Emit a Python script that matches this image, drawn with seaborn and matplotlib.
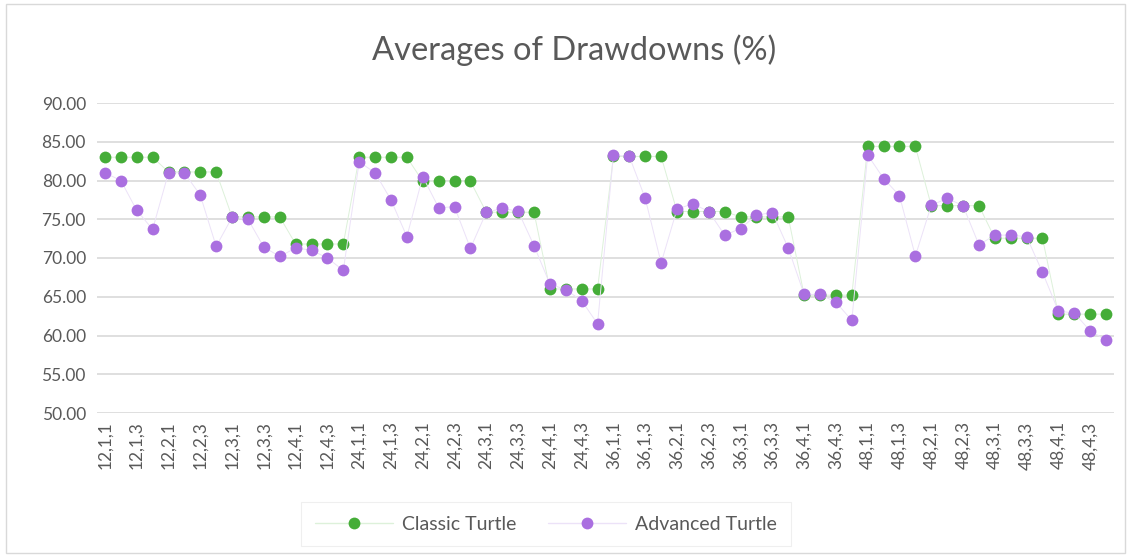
import matplotlib
matplotlib.use("Agg")
import matplotlib.pyplot as plt
import seaborn as sns
import pandas as pd
import numpy as np
from matplotlib.patches import Rectangle
from matplotlib.lines import Line2D

sns.set_theme(style="white")
plt.rcParams['font.family'] = ['Lato', 'DejaVu Sans']

categories = [f"{a},{b},{c}" for a in (12, 24, 36, 48) for b in (1, 2, 3, 4) for c in (1, 2, 3, 4)]

classic = [
    83.0, 83.0, 83.0, 83.0, 81.1, 81.1, 81.1, 81.1, 75.3, 75.3, 75.3, 75.3, 71.8, 71.8, 71.8, 71.8,
    83.0, 83.0, 83.0, 83.0, 79.9, 79.9, 79.9, 79.9, 75.9, 75.9, 75.9, 75.9, 66.0, 66.0, 66.0, 66.0,
    83.1, 83.1, 83.1, 83.1, 76.0, 76.0, 76.0, 76.0, 75.3, 75.3, 75.3, 75.3, 65.2, 65.2, 65.2, 65.2,
    84.4, 84.4, 84.4, 84.4, 76.75, 76.75, 76.75, 76.75, 72.55, 72.55, 72.55, 72.55, 62.75, 62.75, 62.75, 62.75,
]
advanced = [
    81.0, 80.0, 76.15, 73.7, 81.0, 81.0, 78.1, 71.5, 75.25, 75.0, 71.4, 70.2, 71.3, 71.0, 70.0, 68.4,
    82.4, 81.0, 77.5, 72.75, 80.5, 76.5, 76.6, 71.25, 75.9, 76.4, 76.05, 71.6, 66.65, 65.9, 64.5, 61.5,
    83.3, 83.1, 77.7, 69.35, 76.3, 77.0, 76.0, 72.95, 73.8, 75.55, 75.85, 71.3, 65.3, 65.3, 64.3, 61.95,
    83.3, 80.25, 78.05, 70.25, 76.8, 77.7, 76.75, 71.7, 72.95, 72.95, 72.75, 68.15, 63.15, 62.9, 60.6, 59.4,
]
series_names = ["Classic Turtle", "Advanced Turtle"]
yticks = [50, 55, 60, 65, 70, 75, 80, 85, 90]

df = pd.DataFrame({
    "pos": list(range(len(categories))) * 2,
    "value": classic + advanced,
    "series": [series_names[0]] * len(categories) + [series_names[1]] * len(categories),
})

text_gray = "#595959"
green = "#45AD38"
purple = "#AA6FE0"
green_line = "#DDF1DA"
purple_line = "#ECE2F8"

fig = plt.figure(figsize=(11.31, 5.56), dpi=100)
ax = fig.add_axes([97 / 1131, 1 - 413 / 556, (1114 - 97) / 1131, 310 / 556])

sns.lineplot(data=df, x="pos", y="value", hue="series", hue_order=series_names,
             palette=[green, purple], marker="o", markersize=8.5, markeredgewidth=0,
             linewidth=0.7, ax=ax, legend=False, sort=False)
for line, lc, mc in zip(ax.lines, [green_line, purple_line], [green, purple]):
    line.set_color(lc)
    line.set_markerfacecolor(mc)
    line.set_markeredgecolor(mc)

ax.set_xlim(-0.5, len(categories) - 0.5)
ax.set_ylim(50, 90)
ax.set_yticks(yticks)
ax.set_yticklabels([f"{v:.2f}" for v in yticks], color=text_gray, fontsize=12.5)
ax.set_xticks(range(0, len(categories), 2))
ax.set_xticklabels(categories[::2], rotation=90, color=text_gray, fontsize=12.5)
ax.tick_params(axis="both", length=0, pad=8)
ax.tick_params(axis="x", pad=6)
ax.yaxis.grid(True, color="#D9D9D9", linewidth=1.2)
ax.set_axisbelow(True)
for s in ax.spines.values():
    s.set_visible(False)
ax.set_xlabel("")
ax.set_ylabel("")

fig.text(574 / 1131, 1 - 50 / 556, "Averages of Drawdowns (%)", ha="center", va="center",
         fontsize=23.5, color=text_gray)

handles = [Line2D([0], [0], color=lc, lw=1, marker="o", markersize=8.5, markerfacecolor=mc,
                  markeredgewidth=0)
           for lc, mc in [(green_line, green), (purple_line, purple)]]
leg = fig.legend(handles, series_names, loc="center", bbox_to_anchor=(546 / 1131, 1 - 524 / 556),
                 ncol=2, frameon=True, fontsize=14, handlelength=4.0, columnspacing=1.6,
                 handletextpad=0.5, borderpad=0.7)
leg.get_frame().set_edgecolor("#EBEBEB")
leg.get_frame().set_linewidth(0.8)
leg.get_frame().set_boxstyle("square", pad=0)
for t in leg.get_texts():
    t.set_color(text_gray)

fig.patches.append(Rectangle((6 / 1131, 3 / 556), 1 - 12 / 1131, 1 - 7 / 556, transform=fig.transFigure,
                             fill=False, edgecolor="#D9D9D9", linewidth=1))

fig.savefig("out.png", dpi=100)
